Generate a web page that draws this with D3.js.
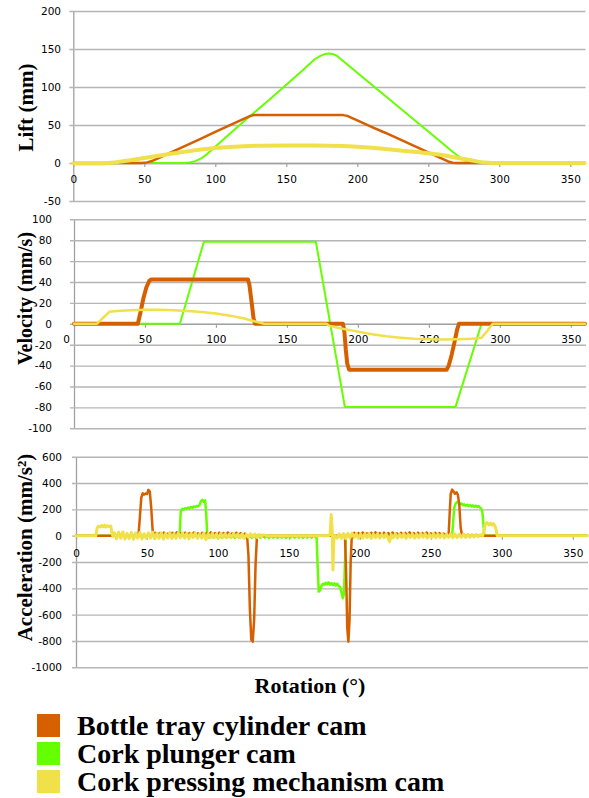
<!DOCTYPE html>
<html><head><meta charset="utf-8">
<script src="https://cdn.jsdelivr.net/npm/d3@7"></script>
<style>body{margin:0;background:#fff}</style>
</head><body>
<svg id="c" width="589" height="798"></svg>
<script>
// ---------- DATA ----------
const seriesNames = ["Bottle tray cylinder cam", "Cork plunger cam", "Cork pressing mechanism cam"];
const xTicks = [0, 50, 100, 150, 200, 250, 300, 350];
const liftTicks = [-50, 0, 50, 100, 150, 200];
const velTicks = [-100, -80, -60, -40, -20, 0, 20, 40, 60, 80, 100];
const accTicks = [-1000, -800, -600, -400, -200, 0, 200, 400, 600];

// Lift (mm) vs rotation (deg)
const liftBottle = [[0,0],[48,0],[52,0.8],[56,3],[60,6.5],[70,15],[80,23.5],[90,32],[100,41],[110,49.5],[120,58],[124,61.5],[127,63],[190,63],[193,62],[196,59.5],[200,56],[210,47.5],[220,39.5],[230,31],[240,22.5],[250,14],[260,5.5],[264,2],[267,0.3],[270,0],[360,0]];
const liftPlunger = [[0,0],[78,0],[82,0.6],[86,2.5],[90,6],[93,10],[100,21.5],[110,38],[120,54.5],[130,70.5],[140,86.5],[150,103],[160,119.5],[170,136.5],[174,141],[177,143.3],[180,144],[183,143.3],[186,140.5],[190,134.3],[200,118.8],[210,103.4],[220,87.9],[230,72.4],[240,56.9],[250,41.5],[260,26],[265,18],[270,10.5],[275,4],[280,1],[285,0.2],[290,0],[360,0]];
const liftPressing = [[0,-0.5],[20,-0.5],[25,0],[30,1],[40,3.5],[50,6.5],[60,9.5],[70,12.5],[80,15.3],[90,17.8],[100,19.7],[110,21.2],[120,22.2],[130,22.8],[150,23],[170,22.9],[190,22.5],[200,21.5],[210,20],[220,18.3],[230,16.5],[240,14.7],[250,12.8],[260,10.5],[270,7],[280,3.5],[285,1.8],[290,0.5],[295,0],[360,0]];

// Velocity (mm/s)
const velBottle = [[0,0],[45,0],[47,12],[49,25],[51,35],[53,41],[54.5,42.5],[80,42.5],[122.5,42.5],[123.5,38],[125,22],[126.5,5],[127.5,0],[189.5,0],[190.5,-8],[191.5,-25],[192.5,-38],[193.8,-44],[230,-44],[262.5,-44],[264,-40],[266,-30],[268,-18],[270,-5],[271.2,0],[360,0]];
const velPlunger = [[0,0],[74.6,0],[91.5,78.5],[170.4,78.5],[190.8,-79.5],[268.8,-79.5],[287.1,0],[360,0]];
const velPressing = [[0,0],[16,0],[25,11.5],[30,12.3],[40,13],[50,13.5],[60,13.4],[70,13],[80,12.2],[90,11.2],[100,9.8],[110,7.8],[120,5],[127,2.5],[134,0],[178,0],[180,-2],[185,-3.5],[190,-5],[200,-7.5],[210,-10],[220,-12],[230,-13.3],[240,-14.3],[250,-14.8],[260,-15],[270,-14.8],[280,-14.3],[287,-13.5],[291,-7],[295,0],[360,0]];

// Acceleration (mm/s^2)
const accBottle = [[0,0],[44,0],[45,140],[46,290],[47,322],[48,312],[49,320],[50,316],[51,348],[52,335],[53,210],[54,40],[55,0],
[56,22],[57.5,0],[59,20],[60.5,0],[62,24],[63.5,0],[65,18],[66.5,0],[68,22],[69.5,0],[71,25],[72.5,0],[74,19],[75.5,0],[77,23],[78.5,0],[80,20],[81.5,0],[83,24],[84.5,0],[86,18],[87.5,0],[89,22],[90.5,0],[92,21],[93.5,0],[95,25],[96.5,0],[98,19],[99.5,0],[101,23],[102.5,0],[104,20],[105.5,0],[107,24],[108.5,0],[110,18],[111.5,0],[113,22],[114.5,0],[116,20],[117.5,0],[119,16],[120.5,0],
[121.5,-150],[122.5,-560],[123.5,-790],[124.5,-805],[125.5,-640],[126.5,-220],[127.5,0],
[189.5,0],[190.3,-280],[191.1,-700],[191.9,-805],[192.7,-640],[193.5,-200],[194.3,0],
[196,22],[197.5,0],[199,20],[200.5,0],[202,24],[203.5,0],[205,18],[206.5,0],[208,22],[209.5,0],[211,25],[212.5,0],[214,19],[215.5,0],[217,23],[218.5,0],[220,20],[221.5,0],[223,24],[224.5,0],[226,18],[227.5,0],[229,22],[230.5,0],[232,21],[233.5,0],[235,25],[236.5,0],[238,19],[239.5,0],[241,23],[242.5,0],[244,20],[245.5,0],[247,24],[248.5,0],[250,18],[251.5,0],[253,22],[254.5,0],[256,20],[257.5,0],[259,16],[260.5,0],
[262.5,0],[263.3,180],[264,320],[265,350],[266,335],[267,318],[268,330],[269,312],[270,240],[271,60],[272,0],[360,0]];
const accPlunger = [[0,0],[73,0],[73.8,185],[75,205],[76,198],[77,210],[78,204],[79,214],[80,208],[81,218],[82,212],[83,222],[84,218],[85,225],[86,222],[87,232],[88,262],[89,272],[90,258],[91,268],[91.8,150],[92.5,0],
[94,-16],[95.5,3],[97,-14],[98.5,2],[100,-17],[101.5,4],[103,-15],[104.5,2],[106,-16],[107.5,3],[109,-14],[110.5,2],[112,-17],[113.5,4],[115,-15],[116.5,2],[118,-16],[119.5,3],[121,-14],[122.5,2],[124,-17],[125.5,4],[127,-15],[128.5,2],[130,-16],[131.5,3],[133,-14],[134.5,2],[136,-17],[137.5,4],[139,-15],[140.5,2],[142,-16],[143.5,3],[145,-14],[146.5,2],[148,-17],[149.5,4],[151,-15],[152.5,2],[154,-16],[155.5,3],[157,-14],[158.5,2],[160,-17],[161.5,4],[163,-15],[164.5,2],[166,-16],[167.5,3],[169,-12],
[169.5,-10],[170.2,-220],[171,-425],[172,-415],[173,-380],[174,-365],[175,-372],[176,-358],[177,-368],[178,-355],[179,-372],[180,-360],[181,-375],[182,-362],[183,-378],[184,-365],[185,-382],[186,-390],[187,-430],[188,-475],[188.8,-440],[189.5,-200],[190.2,0],
[192,8],[193.5,-6],[195,8],[196.5,-6],[198,8],[199.5,-6],[201,8],[202.5,-6],[204,8],[205.5,-6],[207,8],[208.5,-6],[210,8],[211.5,-6],[213,8],[214.5,-6],[216,8],[217.5,-6],[219,8],[220.5,-6],[222,8],[223.5,-6],[225,8],[226.5,-6],[228,8],[229.5,-6],[231,8],[232.5,-6],[234,8],[235.5,-6],[237,8],[238.5,-6],[240,8],[241.5,-6],[243,8],[244.5,-6],[246,8],[247.5,-6],[249,8],[250.5,-6],[252,8],[253.5,-6],[255,8],[256.5,-6],[258,8],[259.5,-6],[261,8],[262.5,-6],[264,0],
[265,0],[265.8,120],[266.5,215],[267.5,245],[268.5,258],[269.5,250],[270.5,240],[271.5,245],[272.5,232],[273.5,238],[274.5,228],[275.5,235],[276.5,226],[277.5,232],[278.5,222],[279.5,230],[280.5,220],[281.5,228],[282.5,218],[283.5,226],[284.5,215],[285.5,205],[286.3,180],[287,90],[287.7,0],[360,0]];
const accPressing = [[0,0],[14,0],[14.8,55],[15.6,72],[17,66],[18,78],[19,68],[20,80],[21,66],[22,76],[23,70],[24.5,74],[25.3,20],[26,-5],
[27,22],[28.5,-24],[30,26],[31.5,-20],[33,28],[34.5,-26],[36,18],[37.5,-22],[39,25],[40.5,-28],[42,20],[43.5,-18],[45,24],[46.5,-25],[48,15],[49.5,-20],[51,22],[52.5,-18],[54,26],[55.5,-24],[57,18],[58.5,-20],[60,22],[61.5,-26],[63,16],[64.5,-18],[66,24],[67.5,-22],[69,14],[70.5,-20],[72,20],[73.5,-16],[75,22],[76.5,-18],[78,18],[79.5,-24],[81,16],[82.5,-14],[84,22],[85.5,-20],[87,12],[88.5,-18],[90,20],[91.5,-30],[93,14],[94.5,-16],[96,18],[97.5,-14],[99,12],[100.5,-18],[102,16],[103.5,-12],[105,14],[106.5,-16],[108,10],[109.5,-14],[111,18],[112.5,-10],[114,12],[115.5,-16],[117,14],[118.5,-20],[120,10],[121.5,-12],[123,14],[124.5,-10],[126,12],[127.5,-14],[129,8],[130.5,-8],[132,6],[134,0],
[178,0],[179,10],[179.8,160],[180.5,40],[181,-260],[181.7,-30],[182.5,0],
[184,-18],[185.5,14],[187,-20],[188.5,16],[190,-22],[191.5,18],[193,-16],[194.5,20],[196,-14],[197.5,16],[199,-20],[200.5,12],[202,-18],[203.5,15],[205,-14],[206.5,18],[208,-20],[209.5,12],[211,-16],[212.5,15],[214,-18],[215.5,10],[217,-14],[218.5,14],[220,-20],[221,-45],[222,10],[223.5,-16],[225,14],[226.5,-18],[228,12],[229.5,-14],[231,16],[232.5,-20],[234,10],[235.5,-14],[237,14],[238.5,-18],[240,12],[241.5,-16],[243,15],[244.5,-12],[246,14],[247.5,-18],[249,10],[250.5,-14],[252,16],[253.5,-16],[255,12],[256.5,-14],[258,14],[259.5,-18],[261,10],[262.5,-12],[264,14],[265.5,-16],[267,12],[268.5,-14],[270,10],[271.5,-12],[273,12],[274.5,-14],[276,10],[277.5,-12],[279,8],[280.5,-10],[282,8],[283.5,-8],[285,6],[286.5,0],
[287.5,40],[288.3,85],[289.5,100],[291,82],[292,95],[293,80],[294,92],[295,78],[296,45],[296.8,0],[360,0]];

// ---------- DRAW ----------
const colBottle = "#D65F00", colPlunger = "#66FF00", colPressing = "#F0E04A";
const gridCol = "#b5b5b5", axisCol = "#a0a0a0";
const tickFont = "'DejaVu Sans', Verdana, sans-serif";
const serif = "'Liberation Serif', 'Times New Roman', serif";
const svg = d3.select("#c");

function panel(o) {
  const x = d3.scaleLinear().domain([0, 360]).range([o.x0, o.x1]);
  const y = d3.scaleLinear().domain([o.yTicks[0], o.yTicks[o.yTicks.length - 1]]).range([o.yBottom, o.yTop]);
  const g = svg.append("g");

  const ya = g.append("g").attr("transform", `translate(${o.x0},0)`)
    .call(d3.axisLeft(y).tickValues(o.yTicks).tickSizeInner(-(o.x1 - o.x0 + 1)).tickSizeOuter(0)
      .tickPadding(o.x0 - o.labelRight).tickFormat(d => String(d)));
  ya.select(".domain").attr("stroke", axisCol).attr("stroke-width", 1.3);
  ya.selectAll(".tick line").attr("x1", -4).attr("stroke", gridCol).attr("stroke-width", 1.4);
  ya.selectAll(".tick text").attr("font-family", tickFont).attr("font-size", 10.5).attr("fill", "#000");

  const xa = g.append("g").attr("transform", `translate(0,${y(0)})`)
    .call(d3.axisBottom(x).tickValues(xTicks).tickSizeInner(4).tickSizeOuter(0)
      .tickPadding(o.xPad).tickFormat(d => String(d)));
  xa.select(".domain").attr("stroke", axisCol).attr("stroke-width", 1.3);
  xa.selectAll(".tick line").attr("stroke", axisCol).attr("stroke-width", 1.2);
  xa.selectAll(".tick text").attr("font-family", tickFont).attr("font-size", 10.5).attr("fill", "#000")
    .attr("dx", d => d === 0 ? o.zeroDx : 0);

  const line = d3.line().x(d => x(d[0])).y(d => y(d[1])).curve(d3.curveLinear);
  o.series.forEach(s => {
    g.append("path").datum(s.data).attr("d", line).attr("fill", "none")
      .attr("stroke", s.color).attr("stroke-width", s.w)
      .attr("stroke-linejoin", "round").attr("stroke-linecap", "round");
  });

  g.append("text").attr("transform", `translate(${o.titleX},${o.titleY}) rotate(-90)`)
    .attr("text-anchor", "middle").attr("font-family", serif).attr("font-weight", "bold")
    .attr("font-size", o.titleSize).text(o.title);
}

panel({
  x0: 73.3, x1: 584.5, yTop: 11, yBottom: 201, yTicks: liftTicks, labelRight: 61, xPad: 9, zeroDx: 0,
  title: "Lift (mm)", titleX: 33, titleY: 107.5, titleSize: 21,
  series: [
    { data: liftPlunger, color: colPlunger, w: 2 },
    { data: liftBottle, color: colBottle, w: 2.5 },
    { data: liftPressing, color: colPressing, w: 4 }
  ]
});
panel({
  x0: 74, x1: 585, yTop: 219.3, yBottom: 428.3, yTicks: velTicks, labelRight: 52, xPad: 8, zeroDx: -8,
  title: "Velocity (mm/s)", titleX: 31.5, titleY: 298.5, titleSize: 20,
  series: [
    { data: velPlunger, color: colPlunger, w: 2 },
    { data: velBottle, color: colBottle, w: 4 },
    { data: velPressing, color: colPressing, w: 2.5 }
  ]
});
panel({
  x0: 76, x1: 587, yTop: 456.7, yBottom: 667.3, yTicks: accTicks, labelRight: 62, xPad: 10, zeroDx: 0,
  title: "Acceleration (mm/s²)", titleX: 31.5, titleY: 547.5, titleSize: 21,
  series: [
    { data: accPlunger, color: colPlunger, w: 2.5 },
    { data: accBottle, color: colBottle, w: 2.5 },
    { data: accPressing, color: colPressing, w: 3 }
  ]
});

svg.append("text").attr("x", 310).attr("y", 693).attr("text-anchor", "middle")
  .attr("font-family", serif).attr("font-weight", "bold").attr("font-size", 22).text("Rotation (°)");

const legCols = [colBottle, colPlunger, colPressing];
const leg = svg.append("g");
seriesNames.forEach((n, i) => {
  leg.append("rect").attr("x", 37).attr("y", 714 + i * 28).attr("width", 23).attr("height", 23).attr("fill", legCols[i]);
  leg.append("text").attr("x", 77).attr("y", 735 + i * 28).attr("font-family", serif)
    .attr("font-weight", "bold").attr("font-size", 28).attr("fill", "#000").text(n);
});
</script>
</body></html>
